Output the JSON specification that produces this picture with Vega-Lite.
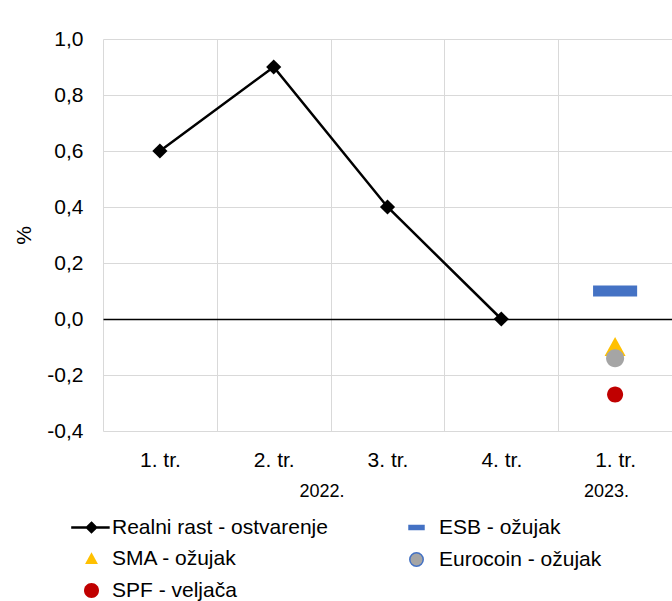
{
  "$schema": "https://vega.github.io/schema/vega-lite/v6.json",
  "autosize": "none",
  "width": 569,
  "height": 392,
  "padding": {"left": 103, "top": 39, "right": 0, "bottom": 170},
  "background": "#ffffff",
  "datasets": {
    "real": [
      {"q": 0.5, "v": 0.6, "s": "Realni rast - ostvarenje"},
      {"q": 1.5, "v": 0.9, "s": "Realni rast - ostvarenje"},
      {"q": 2.5, "v": 0.4, "s": "Realni rast - ostvarenje"},
      {"q": 3.5, "v": 0.0, "s": "Realni rast - ostvarenje"}
    ],
    "fcA": [
      {"q": 4.5, "v": 0.1, "s": "ESB - ožujak"},
      {"q": 4.5, "v": -0.14, "s": "Eurocoin - ožujak"}
    ],
    "fcB": [
      {"q": 4.5, "v": -0.1, "s": "SMA - ožujak"},
      {"q": 4.5, "v": -0.27, "s": "SPF - veljača"}
    ]
  },
  "config": {
    "font": "Liberation Sans",
    "view": {"stroke": null},
    "axis": {"labelFont": "Liberation Sans", "titleFont": "Liberation Sans", "labelColor": "#000000", "titleColor": "#000000"},
    "legend": {"labelFont": "Liberation Sans", "labelColor": "#000000", "padding": 0, "labelFontSize": 21, "labelLimit": 400, "symbolSize": 196, "orient": "none", "direction": "vertical", "rowPadding": 10}
  },
  "resolve": {"axis": {"x": "independent"}, "scale": {"color": "independent", "shape": "independent", "size": "independent"}},
  "layer": [
    {
      "data": {"name": "real"},
      "mark": {"type": "line", "color": "#000000", "strokeWidth": 2.5},
      "encoding": {
        "x": {"field": "q", "type": "quantitative", "scale": {"domain": [0, 5], "nice": false, "zero": false},
          "axis": {"orient": "bottom", "values": [0, 1, 2, 3, 4, 5], "grid": true, "gridColor": "#d9d9d9", "gridWidth": 1, "labels": false, "ticks": false, "domain": false, "title": null}},
        "y": {"field": "v", "type": "quantitative", "title": "%", "scale": {"domain": [-0.4, 1.0], "nice": false, "zero": false},
          "axis": {"values": [-0.4, -0.2, 0, 0.2, 0.4, 0.6, 0.8, 1.0],
            "labelExpr": "replace(replace(format(datum.value, '.1f'), '.', ','), '\u2212', '-')",
            "labelFontSize": 21, "labelPadding": 20, "ticks": false, "tickSize": 0, "domain": false, "grid": true,
            "gridColor": {"condition": {"test": "datum.value === 0", "value": "#000000"}, "value": "#d9d9d9"},
            "gridWidth": {"condition": {"test": "datum.value === 0", "value": 1.5}, "value": 1},
            "titleFontSize": 21, "titleFontWeight": "normal", "titlePadding": 12}}
      }
    },
    {
      "data": {"name": "real"},
      "mark": {"type": "point", "shape": "diamond", "size": 230, "filled": true, "opacity": 1},
      "encoding": {
        "x": {"field": "q", "type": "quantitative",
          "axis": {"orient": "bottom", "values": [0.5, 1.5, 2.5, 3.5, 4.5],
            "labelExpr": "datum.value < 4 ? (floor(datum.value) + 1) + '. tr.' : '1. tr.'",
            "grid": false, "ticks": false, "tickSize": 0, "domain": false, "labelFontSize": 21, "labelPadding": 18, "labelFlush": false, "labelOverlap": false, "title": null}},
        "y": {"field": "v", "type": "quantitative", "title": "%", "scale": {"domain": [-0.4, 1.0], "nice": false, "zero": false},
          "axis": {"values": [-0.4, -0.2, 0, 0.2, 0.4, 0.6, 0.8, 1.0],
            "labelExpr": "replace(replace(format(datum.value, '.1f'), '.', ','), '\u2212', '-')",
            "labelFontSize": 21, "labelPadding": 20, "ticks": false, "tickSize": 0, "domain": false, "grid": true,
            "gridColor": {"condition": {"test": "datum.value === 0", "value": "#000000"}, "value": "#d9d9d9"},
            "gridWidth": {"condition": {"test": "datum.value === 0", "value": 1.5}, "value": 1},
            "titleFontSize": 21, "titleFontWeight": "normal", "titlePadding": 12}},
        "color": {"field": "s", "type": "nominal",
          "scale": {"domain": ["Realni rast - ostvarenje"], "range": ["#000000"]},
          "legend": {"title": null, "orient": "none", "legendX": -22, "legendY": 478, "labelOffset": 10,
            "symbolType": "M-2.9,0H2.6M0,-0.65L0.65,0L0,0.65L-0.65,0Z", "symbolStrokeColor": "#000000", "symbolStrokeWidth": 2.5, "symbolFillColor": "#000000"}}
      }
    },
    {
      "data": {"name": "fcB"},
      "mark": {"type": "point", "filled": true, "opacity": 1},
      "encoding": {
        "x": {"field": "q", "type": "quantitative", "axis": null},
        "y": {"field": "v", "type": "quantitative", "title": "%", "scale": {"domain": [-0.4, 1.0], "nice": false, "zero": false},
          "axis": {"values": [-0.4, -0.2, 0, 0.2, 0.4, 0.6, 0.8, 1.0],
            "labelExpr": "replace(replace(format(datum.value, '.1f'), '.', ','), '\u2212', '-')",
            "labelFontSize": 21, "labelPadding": 20, "ticks": false, "tickSize": 0, "domain": false, "grid": true,
            "gridColor": {"condition": {"test": "datum.value === 0", "value": "#000000"}, "value": "#d9d9d9"},
            "gridWidth": {"condition": {"test": "datum.value === 0", "value": 1.5}, "value": 1},
            "titleFontSize": 21, "titleFontWeight": "normal", "titlePadding": 12}},
        "color": {"field": "s", "type": "nominal",
          "scale": {"domain": ["SMA - ožujak", "SPF - veljača"], "range": ["#FFC000", "#C00000"]},
          "legend": {"title": null, "orient": "none", "legendX": -22, "legendY": 509, "labelOffset": 10, "symbolStrokeColor": "transparent", "symbolStrokeWidth": 0}},
        "shape": {"field": "s", "type": "nominal", "legend": null,
          "scale": {"domain": ["SMA - ožujak", "SPF - veljača"],
            "range": ["M0,-0.88L0.92,0.8L-0.92,0.8Z", "M-1.07,0A1.07,1.07,0,1,1,1.07,0A1.07,1.07,0,1,1,-1.07,0Z"]}},
        "size": {"field": "s", "type": "nominal", "legend": null,
          "scale": {"domain": ["SPF - veljača", "SMA - ožujak"], "range": [224, 520]}}
      }
    },
    {
      "data": {"name": "fcA"},
      "mark": {"type": "point", "filled": true, "opacity": 1},
      "encoding": {
        "x": {"field": "q", "type": "quantitative",
          "axis": {"orient": "bottom", "values": [1.92, 4.42],
            "labelExpr": "datum.value < 3 ? '2022.' : '2023.'",
            "grid": false, "ticks": false, "tickSize": 0, "domain": false, "labelFontSize": 18, "labelPadding": 51, "labelFlush": false, "labelOverlap": false, "title": null}},
        "y": {"field": "v", "type": "quantitative", "title": "%", "scale": {"domain": [-0.4, 1.0], "nice": false, "zero": false},
          "axis": {"values": [-0.4, -0.2, 0, 0.2, 0.4, 0.6, 0.8, 1.0],
            "labelExpr": "replace(replace(format(datum.value, '.1f'), '.', ','), '\u2212', '-')",
            "labelFontSize": 21, "labelPadding": 20, "ticks": false, "tickSize": 0, "domain": false, "grid": true,
            "gridColor": {"condition": {"test": "datum.value === 0", "value": "#000000"}, "value": "#d9d9d9"},
            "gridWidth": {"condition": {"test": "datum.value === 0", "value": 1.5}, "value": 1},
            "titleFontSize": 21, "titleFontWeight": "normal", "titlePadding": 12}},
        "color": {"field": "s", "type": "nominal",
          "scale": {"domain": ["ESB - ožujak", "Eurocoin - ožujak"], "range": ["#4472C4", "#A5A5A5"]},
          "legend": {"title": null, "orient": "none", "legendX": 303, "legendY": 478, "labelOffset": 12, "symbolStrokeColor": "#4472C4", "symbolStrokeWidth": 1.5}},
        "shape": {"field": "s", "type": "nominal", "legend": null,
          "scale": {"domain": ["ESB - ožujak", "Eurocoin - ožujak"],
            "range": ["M-1.07,-0.27H1.07V0.27H-1.07Z", "M-0.96,0A0.96,0.96,0,1,1,0.96,0A0.96,0.96,0,1,1,-0.96,0Z"]}},
        "size": {"field": "s", "type": "nominal", "legend": null,
          "scale": {"domain": ["Eurocoin - ožujak", "ESB - ožujak"], "range": [353, 1697]}}
      }
    }
  ]
}
